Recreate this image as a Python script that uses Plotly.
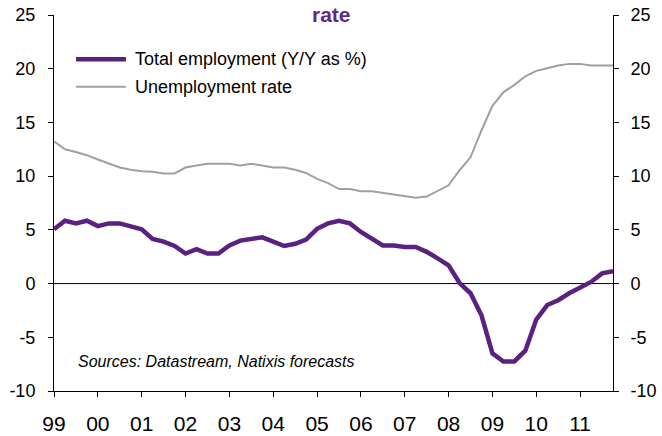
import numpy as np
import plotly.graph_objects as go

# Quarterly series, 1999Q1 .. 2011Q4
start_year = 1999
employment_yoy = [
    5.05, 5.85, 5.6, 5.85, 5.35, 5.6, 5.6, 5.35,
    5.05, 4.15, 3.9, 3.5, 2.8, 3.2, 2.8, 2.8,
    3.55, 4.0, 4.15, 4.3, 3.9, 3.5, 3.7, 4.1,
    5.1, 5.6, 5.85, 5.6, 4.8, 4.2, 3.55, 3.55,
    3.4, 3.4, 2.95, 2.35, 1.7, 0.05, -0.9, -2.95,
    -6.5, -7.25, -7.25, -6.25, -3.35, -2.0, -1.55, -0.9,
    -0.4, 0.15, 0.95, 1.15,
]
unemployment_rate = [
    13.25, 12.5, 12.25, 11.95, 11.55, 11.15, 10.8, 10.6,
    10.45, 10.4, 10.25, 10.25, 10.8, 11.0, 11.15, 11.15,
    11.15, 11.0, 11.15, 11.0, 10.8, 10.8, 10.6, 10.3,
    9.75, 9.35, 8.8, 8.8, 8.6, 8.6, 8.45, 8.3,
    8.1, 8.0, 8.1, 8.6, 9.15, 10.55, 11.75, 14.25,
    16.55, 17.8, 18.5, 19.3, 19.8, 20.05, 20.3, 20.45,
    20.45, 20.3, 20.3, 20.3,
]
year_ticks = list(range(1999, 2012))
year_labels = ["99", "00", "01", "02", "03", "04", "05", "06", "07", "08", "09", "10", "11"]
value_ticks = [-10, -5, 0, 5, 10, 15, 20, 25]
value_labels = ["-10", "-5", "0", "5", "10", "15", "20", "25"]
series_names = ["Total employment (Y/Y as %)", "Unemployment rate"]

quarter_pos = start_year + 0.25 * np.arange(len(employment_yoy))

PURPLE = "#5B2180"
GREY = "#A0A0A0"
FONT = "Liberation Sans, Arial, sans-serif"

W, H = 662, 436
L, R, T, B = 54, 48.5, 15, 45
pw, ph = W - L - R, H - T - B


def px_x(x):
    return (x - L) / pw


def px_y(y):
    return (H - B - y) / ph


fig = go.Figure()
fig.add_trace(go.Scatter(
    x=quarter_pos, y=unemployment_rate, mode="lines", yaxis="y2",
    line=dict(color=GREY, width=2), name=series_names[1], showlegend=False,
))
fig.add_trace(go.Scatter(
    x=quarter_pos, y=employment_yoy, mode="lines",
    line=dict(color=PURPLE, width=4.5), name=series_names[0], showlegend=False,
))

yax = dict(
    range=[-10, 25], tickvals=value_ticks, ticktext=value_labels, showgrid=False,
    showline=True, linecolor="#000000", linewidth=1,
    ticks="outside", ticklen=5, tickcolor="#000000", tickwidth=1,
    tickfont=dict(family=FONT, size=18, color="#000000"),
    zeroline=False,
)

fig.update_layout(
    width=W, height=H,
    margin=dict(l=L, r=R, t=T, b=B, autoexpand=False),
    paper_bgcolor="white", plot_bgcolor="white",
    showlegend=False,
    xaxis=dict(
        range=[start_year, start_year + 12.75],
        tickvals=year_ticks, ticktext=year_labels,
        showgrid=False, showline=True, linecolor="#000000", linewidth=1,
        ticks="outside", ticklen=5, tickcolor="#000000",
        tickfont=dict(family=FONT, size=21, color="#000000"),
        ticklabelstandoff=9, zeroline=False,
    ),
    yaxis=dict(**yax, side="left", ticklabelstandoff=9),
    yaxis2=dict(**yax, side="right", overlaying="y", anchor="x", ticklabelstandoff=8),
)

# zero reference line
fig.add_shape(type="line", xref="paper", yref="y", x0=0, x1=1, y0=0, y1=0,
              line=dict(color="#000000", width=1), layer="below")

# legend
for (yy, color, width, label) in [
    (59.3, PURPLE, 4.5, series_names[0]),
    (86.7, GREY, 2, series_names[1]),
]:
    fig.add_shape(type="line", xref="paper", yref="paper",
                  x0=px_x(76), x1=px_x(126), y0=px_y(yy), y1=px_y(yy),
                  line=dict(color=color, width=width))
    fig.add_annotation(xref="paper", yref="paper", x=px_x(133), y=px_y(yy),
                       xanchor="left", yanchor="middle", showarrow=False,
                       text=label, font=dict(family=FONT, size=18, color="#000000"))

# title fragment
fig.add_annotation(xref="paper", yref="paper", x=px_x(332), y=px_y(14),
                   xanchor="center", yanchor="middle", showarrow=False,
                   text="<b>rate</b>", font=dict(family=FONT, size=21, color="#5E2A84"))

# source note
fig.add_annotation(xref="paper", yref="paper", x=px_x(76), y=px_y(361.5),
                   xanchor="left", yanchor="middle", showarrow=False,
                   text="<i>Sources: Datastream, Natixis forecasts</i>",
                   font=dict(family=FONT, size=16, color="#000000"))

fig.write_html("out.html")
